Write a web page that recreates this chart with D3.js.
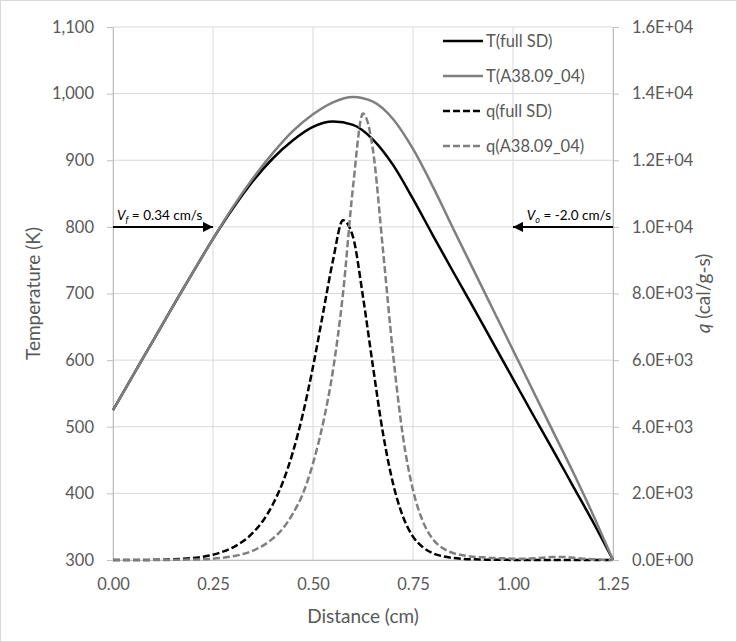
<!DOCTYPE html>
<html>
<head>
  <meta charset="UTF-8">
  <style>
    body { margin: 0; background: white; }
    text { font-family: Lato, "Open Sans", sans-serif; fill: #595959; }
  </style>
</head>
<body>
<svg></svg>
<script src="https://d3js.org/d3.v7.min.js"></script>
<script>

let width = 737, height = 642;

// distance points for the temperature curves (cm)
const tDist = [0, 0.05, 0.1, 0.15, 0.2, 0.25, 0.3, 0.35, 0.4, 0.45, 0.5, 0.55, 0.6,
  0.65, 0.7, 0.75, 0.8, 0.85, 0.9, 0.95, 1.0, 1.05, 1.1, 1.15, 1.2, 1.25];
const tFull = [525, 577, 629, 681, 732, 782, 828, 869, 903, 930, 950, 958, 953,
  931, 893, 842, 787, 733, 680, 626, 572, 518, 465, 411, 357, 300];
const tA38 = [525, 577, 629, 681, 732, 782, 830, 873, 911, 944, 969, 987, 995,
  988, 962, 917, 860, 798, 737, 676, 615, 554, 493, 432, 368, 300];

// distance points for the heat release curves (cm)
const qDist = [0, 0.025, 0.05, 0.075, 0.1, 0.125, 0.15, 0.175, 0.2, 0.225, 0.25, 0.275,
  0.3, 0.325, 0.35, 0.375, 0.4, 0.425, 0.45, 0.475, 0.5, 0.525, 0.55, 0.575, 0.6,
  0.625, 0.65, 0.675, 0.7, 0.725, 0.75, 0.775, 0.8, 0.825, 0.85, 0.875, 0.9, 0.925,
  0.95, 0.975, 1.0, 1.025, 1.05, 1.075, 1.1, 1.125, 1.15, 1.175, 1.2, 1.225, 1.25];
const qFull = [0, 0, 0, 0, 5, 10, 20, 35, 60, 100, 160, 250,
  380, 560, 820, 1180, 1680, 2350, 3250, 4400, 5800, 7400, 9000, 10200, 9700,
  7900, 5800, 3800, 2300, 1300, 700, 380, 200, 110, 60, 35, 20, 12,
  8, 5, 3, 2, 2, 2, 2, 2, 1, 1, 0, 0, 0];
const qA38 = [0, 0, 0, 0, 0, 0, 5, 10, 15, 20, 40, 70,
  110, 180, 280, 430, 650, 950, 1400, 2000, 2900, 4100, 5700, 8000, 11200,
  13400, 12300, 9300, 6200, 3700, 2100, 1150, 620, 350, 210, 140, 100, 80,
  60, 50, 40, 40, 50, 70, 90, 90, 70, 40, 20, 10, 0];

const seriesNames = ["T(full SD)", "T(A38.09_04)", "q(full SD)", "q(A38.09_04)"];

const xTicks = [0, 0.25, 0.5, 0.75, 1.0, 1.25];
const tTicks = [300, 400, 500, 600, 700, 800, 900, 1000, 1100];
const qTicks = [0, 2000, 4000, 6000, 8000, 10000, 12000, 14000, 16000];

// velocity arrows: [from distance, to distance, temperature level]
const arrowVf = [0, 0.25, 800];
const arrowVo = [1.25, 1.0, 800];

let svg = d3.select("svg")
    .attr("width", width)
    .attr("height", height);

// outer chart border
svg.append("rect")
    .attr("x", 0.5).attr("y", 0.5)
    .attr("width", width - 1).attr("height", height - 1)
    .attr("fill", "white")
    .attr("stroke", "#d9d9d9");

let x = d3.scaleLinear().domain([0, 1.25]).range([113, 613]);
let yT = d3.scaleLinear().domain([300, 1100]).range([560, 27]);
let yQ = d3.scaleLinear().domain([0, 16000]).range([560, 27]);

// gridlines
svg.append("g")
  .selectAll("line.h")
  .data(tTicks)
  .enter()
  .append("line")
    .attr("x1", x(0)).attr("x2", x(1.25))
    .attr("y1", d => yT(d)).attr("y2", d => yT(d))
    .attr("stroke", "#d9d9d9");

svg.append("g")
  .selectAll("line.v")
  .data(xTicks)
  .enter()
  .append("line")
    .attr("x1", d => x(d)).attr("x2", d => x(d))
    .attr("y1", yT(300)).attr("y2", yT(1100))
    .attr("stroke", "#d9d9d9");

// axes
let fmtT = d3.format(",");
let fmtQ = d => d.toExponential(1).replace("e+", "E+0");

let axL = svg.append("g")
    .attr("transform", `translate(${x(0)},0)`)
    .call(d3.axisLeft(yT).tickValues(tTicks).tickFormat(fmtT).tickSizeOuter(0).tickSize(6).tickPadding(13));
let axR = svg.append("g")
    .attr("transform", `translate(${x(1.25)},0)`)
    .call(d3.axisRight(yQ).tickValues(qTicks).tickFormat(fmtQ).tickSizeOuter(0).tickSize(6).tickPadding(13));
let axB = svg.append("g")
    .attr("transform", `translate(0,${yT(300)})`)
    .call(d3.axisBottom(x).tickValues(xTicks).tickFormat(d3.format(".2f")).tickSizeOuter(0).tickSize(0).tickPadding(18));

[axL, axR, axB].forEach(a => {
  a.select(".domain").attr("stroke", "#bfbfbf");
  a.selectAll(".tick line").attr("stroke", "#bfbfbf");
  a.selectAll(".tick text")
    .attr("fill", "#595959")
    .style("font-size", "16.5px")
    .style("font-family", "Lato, 'Open Sans', sans-serif");
});

// lines
let lineT = d3.line().x(d => x(d[0])).y(d => yT(d[1])).curve(d3.curveMonotoneX);
let lineQ = d3.line().x(d => x(d[0])).y(d => yQ(d[1])).curve(d3.curveMonotoneX);

let series = [
  { name: seriesNames[0], path: lineT(d3.zip(tDist, tFull)), color: "#000000", dash: null },
  { name: seriesNames[1], path: lineT(d3.zip(tDist, tA38)), color: "#7f7f7f", dash: null },
  { name: seriesNames[2], path: lineQ(d3.zip(qDist, qFull)), color: "#000000", dash: "7,3" },
  { name: seriesNames[3], path: lineQ(d3.zip(qDist, qA38)), color: "#7f7f7f", dash: "7,3" }
];

svg.append("g")
  .selectAll("path")
  .data(series)
  .enter()
  .append("path")
    .attr("d", d => d.path)
    .attr("fill", "none")
    .attr("stroke", d => d.color)
    .attr("stroke-width", 2.5)
    .attr("stroke-dasharray", d => d.dash);

// legend
let legend = svg.append("g").selectAll("g")
  .data(series)
  .enter()
  .append("g")
    .attr("transform", (d, i) => `translate(443,${41 + i * 35})`);

legend.append("line")
    .attr("x1", 0).attr("x2", 40)
    .attr("stroke", d => d.color)
    .attr("stroke-width", 2.5)
    .attr("stroke-dasharray", d => d.dash);

legend.append("text")
    .attr("x", 43)
    .attr("dy", "0.35em")
    .style("font-size", "16.5px")
    .text(d => d.name);

// arrowhead marker
svg.append("defs")
  .append("marker")
    .attr("id", "arrow")
    .attr("viewBox", [0, 0, 10, 10])
    .attr("refX", 10)
    .attr("refY", 5)
    .attr("markerWidth", 5)
    .attr("markerHeight", 5)
    .attr("orient", "auto")
  .append("path")
    .attr("d", d3.line()([[0, 0], [10, 5], [0, 10]]))
    .attr("fill", "black");

[arrowVf, arrowVo].forEach(a => {
  svg.append("line")
    .attr("x1", x(a[0])).attr("x2", x(a[1]))
    .attr("y1", yT(a[2])).attr("y2", yT(a[2]))
    .attr("stroke", "black")
    .attr("stroke-width", 2)
    .attr("marker-end", "url(#arrow)");
});

// arrow labels
let vf = svg.append("text")
    .attr("x", x(arrowVf[0]) + 4)
    .attr("y", yT(arrowVf[2]) - 7)
    .style("font-size", "13.5px")
    .style("fill", "#000");
vf.append("tspan").style("font-style", "italic").style("fill", "#000").text("V");
vf.append("tspan").style("font-style", "italic").style("font-size", "9px").style("fill", "#000").attr("dy", 3).text("f");
vf.append("tspan").attr("dy", -3).style("fill", "#000").text(" = 0.34 cm/s");

let vo = svg.append("text")
    .attr("x", x(arrowVo[0]) - 2)
    .attr("y", yT(arrowVo[2]) - 7)
    .attr("text-anchor", "end")
    .style("font-size", "13.5px")
    .style("fill", "#000");
vo.append("tspan").style("font-style", "italic").style("fill", "#000").text("V");
vo.append("tspan").style("font-style", "italic").style("font-size", "9px").style("fill", "#000").attr("dy", 3).text("o");
vo.append("tspan").attr("dy", -3).style("fill", "#000").text(" = -2.0 cm/s");

// axis titles
svg.append("text")
    .attr("transform", `translate(40,${(yT(300) + yT(1100)) / 2}) rotate(-90)`)
    .attr("text-anchor", "middle")
    .style("font-size", "19px")
    .text("Temperature (K)");

let qt = svg.append("text")
    .attr("transform", `translate(710,${(yT(300) + yT(1100)) / 2}) rotate(-90)`)
    .attr("text-anchor", "middle")
    .style("font-size", "19px");
qt.append("tspan").style("font-style", "italic").text("q");
qt.append("tspan").text(" (cal/g-s)");

svg.append("text")
    .attr("x", (x(0) + x(1.25)) / 2)
    .attr("y", 623)
    .attr("text-anchor", "middle")
    .style("font-size", "19px")
    .text("Distance (cm)");

</script>
</body>
</html>
